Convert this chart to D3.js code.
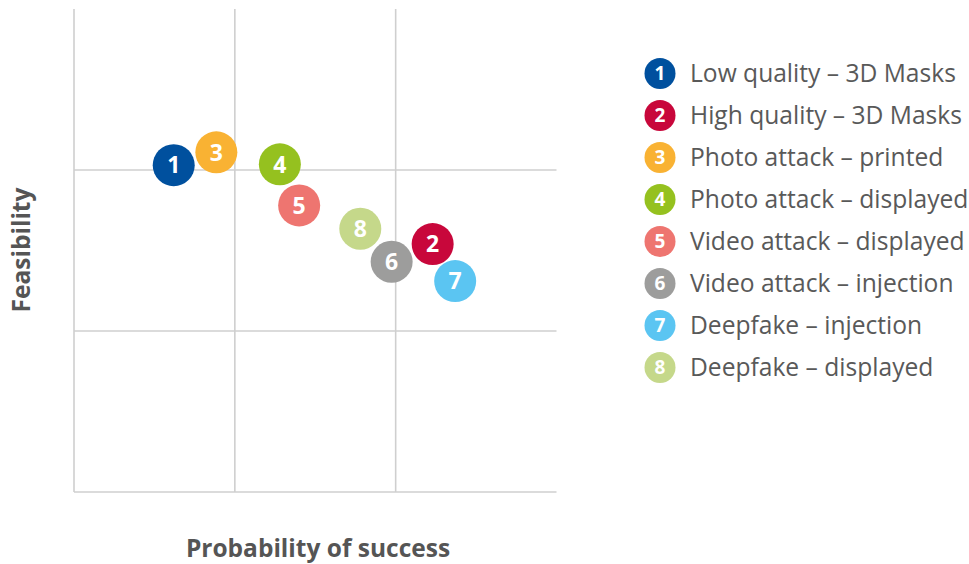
<!DOCTYPE html>
<html>
<head>
<meta charset="utf-8">
<script src="https://cdn.jsdelivr.net/npm/d3@7"></script>
<style>
  body { margin: 0; background: #fff; }
  svg text { font-family: "Open Sans", sans-serif; }
</style>
</head>
<body>
<div id="chart"></div>
<script>
var ids = [1, 2, 3, 4, 5, 6, 7, 8],
	labels = ["Low quality – 3D Masks", "High quality – 3D Masks", "Photo attack – printed",
		"Photo attack – displayed", "Video attack – displayed", "Video attack – injection",
		"Deepfake – injection", "Deepfake – displayed"],
	probability = [0.62, 2.23, 0.885, 1.28, 1.40, 1.975, 2.37, 1.78],
	feasibility = [2.03, 1.54, 2.11, 2.035, 1.78, 1.43, 1.31, 1.635],
	colors = ["#00509e", "#c8073b", "#f9b233", "#95c11f", "#ee7570", "#9d9d9c", "#5bc5f2", "#c5d88a"];

var gridTicks = [0, 1, 2, 3];

var width = 969, height = 564;

var svg = d3.select("#chart")
	.append("svg")
	.attr("width", width)
	.attr("height", height);

// plot area
var x = d3.scaleLinear().domain([0, 3]).range([74, 556.5]);
var y = d3.scaleLinear().domain([0, 3]).range([492, 9]);

var grid = svg.append("g")
	.attr("stroke", "#cfcfcf")
	.attr("stroke-width", 1.6);

grid.selectAll("line.v")
	.data(gridTicks.slice(0, 3))
	.enter()
	.append("line")
	.attr("class", "v")
	.attr("x1", function(d){ return x(d); })
	.attr("x2", function(d){ return x(d); })
	.attr("y1", y(3))
	.attr("y2", y(0));

grid.selectAll("line.h")
	.data(gridTicks.slice(0, 3))
	.enter()
	.append("line")
	.attr("class", "h")
	.attr("y1", function(d){ return y(d); })
	.attr("y2", function(d){ return y(d); })
	.attr("x1", x(0))
	.attr("x2", x(3));

// bubbles
var points = ids.map(function(id, i){
	return { id: id, px: probability[i], py: feasibility[i], color: colors[i] };
});

var bubble = svg.append("g")
	.selectAll("g")
	.data(points)
	.enter()
	.append("g")
	.attr("transform", function(d){ return "translate(" + x(d.px) + "," + y(d.py) + ")"; });

bubble.append("circle")
	.attr("r", 21)
	.attr("fill", function(d){ return d.color; });

bubble.append("text")
	.attr("text-anchor", "middle")
	.attr("dy", "0.36em")
	.attr("fill", "#fff")
	.attr("font-weight", "bold")
	.attr("font-size", 23)
	.text(function(d){ return d.id; });

// axis titles
svg.append("text")
	.attr("x", 318)
	.attr("y", 557)
	.attr("text-anchor", "middle")
	.attr("font-weight", "bold")
	.attr("font-size", 24.5)
	.attr("fill", "#555")
	.text("Probability of success");

svg.append("text")
	.attr("transform", "translate(30,250) rotate(-90)")
	.attr("text-anchor", "middle")
	.attr("font-weight", "bold")
	.attr("font-size", 24.5)
	.attr("fill", "#555")
	.text("Feasibility");

// legend
var legend = svg.append("g")
	.selectAll("g")
	.data(points)
	.enter()
	.append("g")
	.attr("transform", function(d, i){ return "translate(660," + (73.5 + i * 42) + ")"; });

legend.append("circle")
	.attr("r", 15.5)
	.attr("fill", function(d){ return d.color; });

legend.append("text")
	.attr("text-anchor", "middle")
	.attr("dy", "0.36em")
	.attr("fill", "#fff")
	.attr("font-weight", "bold")
	.attr("font-size", 19)
	.text(function(d){ return d.id; });

legend.append("text")
	.attr("x", 30)
	.attr("dy", "0.36em")
	.attr("fill", "#595959")
	.attr("font-size", 24.6)
	.text(function(d, i){ return labels[i]; });
</script>
</body>
</html>
